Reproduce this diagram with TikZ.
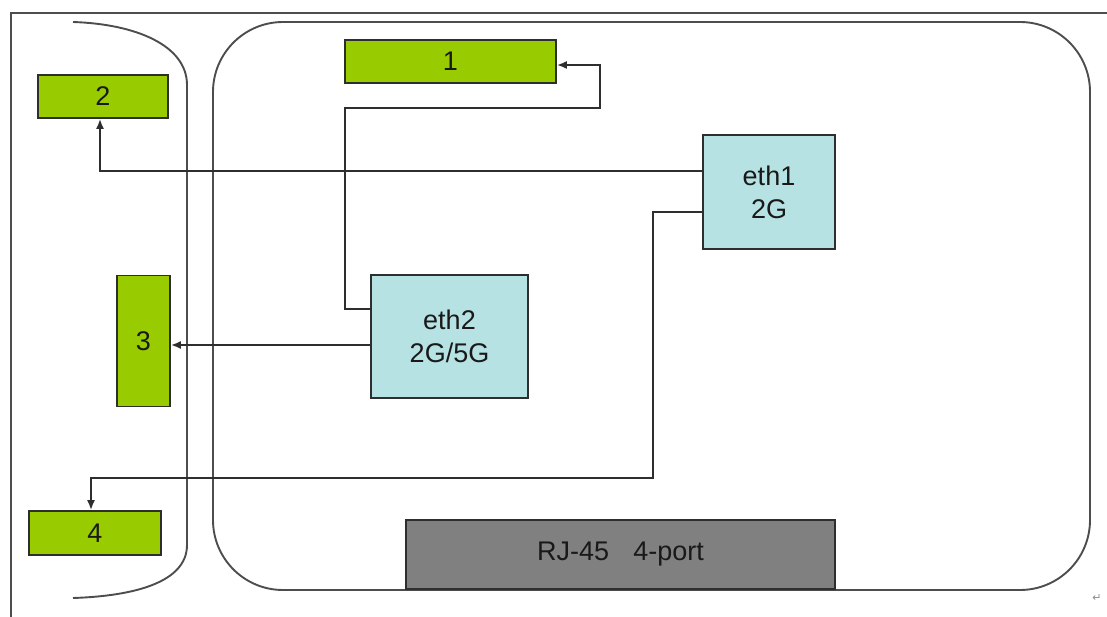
\documentclass[tikz,border=0pt]{standalone}
\usepackage{fontspec}
\setmainfont{Liberation Sans}
\newfontfamily\symfont{DejaVu Sans}
\usetikzlibrary{arrows.meta}
\definecolor{grn}{HTML}{99CC00}
\definecolor{cyanbox}{HTML}{B7E2E4}
\definecolor{rjgray}{HTML}{808080}
\definecolor{ln}{HTML}{2E2E2E}
\begin{document}
\begin{tikzpicture}[x=1pt,y=-1pt,
  base/.style={draw=ln, line width=1.8pt, inner sep=0pt, text=black!90,
    font=\fontsize{27}{33}\selectfont, align=center},
  greenbox/.style={base, fill=grn},
  ethbox/.style={base, fill=cyanbox},
  rjbox/.style={base, fill=rjgray},
  outline/.style={draw=ln!85, line width=1.9pt},
  arr/.style={draw=ln, line width=1.7pt, -{Latex[length=10pt,width=8pt]}},
  conn/.style={draw=ln, line width=1.7pt}]
\useasboundingbox (0,0) rectangle (1107,617);
% frame
\draw[outline] (11,617) -- (11,13) -- (1107,13);
% left curved shape
\draw[outline] (73,22) .. controls (135,24) and (187,45) .. (187,85)
  -- (187,545) .. controls (187,582) and (135,596) .. (73,598);
% main rounded rect
\draw[outline, rounded corners=70pt] (213,22) rectangle (1090,590);
% boxes
\node[greenbox, minimum width=211pt, minimum height=43pt] (n1) at (450.5,61.5) {1};
\node[greenbox, minimum width=130pt, minimum height=43pt] (n2) at (103,96.5) {2};
\node[greenbox, minimum width=53pt, minimum height=131pt] (n3) at (143.5,341) {3};
\node[greenbox, minimum width=132pt, minimum height=44pt] (n4) at (95,533) {4};
\node[ethbox, minimum width=132pt, minimum height=114pt] (eth1) at (769,192) {eth1\\2G};
\node[ethbox, minimum width=157pt, minimum height=123pt] (eth2) at (449.5,336.5) {eth2\\2G/5G};
\node[rjbox, minimum width=429pt, minimum height=69pt] (rj) at (620.5,554.5) {RJ-45\hspace{0.9em}4-port};
\node[text=black!45, font=\symfont\fontsize{11}{11}\selectfont, inner sep=0pt] (ret) at (1097,598) {↵};
% connectors
\path ([yshift=-35pt]eth2.north west) coordinate (e2a)
      ([yshift=-8.5pt]eth2.west) coordinate (e2b)
      ([yshift=21pt]eth1.west) coordinate (e1a)
      ([yshift=-20pt]eth1.west) coordinate (e1b)
      (345,108) coordinate (b1)
      (600,108) coordinate (b2)
      (653,478) coordinate (b3);
\draw[arr] (e2a) -| (b1) -- (b2) |- ([yshift=-3.5pt]n1.east);
\draw[arr] (e1a) -| ([xshift=-3pt]n2.south);
\draw[arr] (e2b) -- (e2b -| n3.east);
\draw[arr] (e1b) -| (b3) -| ([xshift=-4pt]n4.north);
\end{tikzpicture}
\end{document}
